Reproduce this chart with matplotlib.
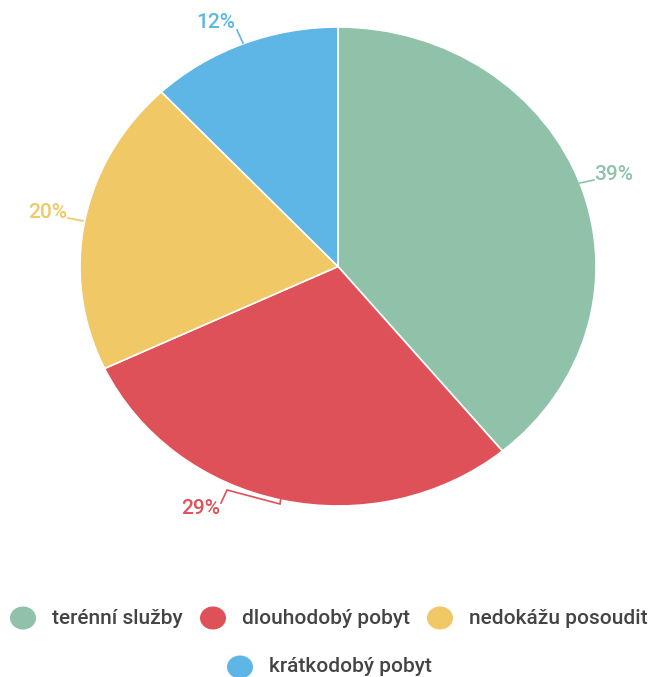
import matplotlib
matplotlib.use('Agg')
import matplotlib.pyplot as plt
from matplotlib.patches import Ellipse

# chart data
categories = ['terénní služby', 'dlouhodobý pobyt', 'nedokážu posoudit', 'krátkodobý pobyt']
shares = [39, 29, 20, 12]
colors = ['#8FC2A8', '#DF5158', '#F0C866', '#5DB6E5']

W, H = 652, 677
plt.rcParams['font.family'] = ['Roboto', 'DejaVu Sans']

fig = plt.figure(figsize=(W / 100, H / 100), dpi=100)

# pie box in pixels (left, top, right, bottom) - the reference pie is slightly elliptical
L, T, R, B = 80, 27, 596, 506
cx, cy = (L + R) / 2, (T + B) / 2
rx, ry = (R - L) / 2, (B - T) / 2
ax = fig.add_axes([L / W, 1 - B / H, (R - L) / W, (B - T) / H])

wedges, _ = ax.pie(shares, colors=colors, startangle=90, counterclock=False,
                   radius=1, wedgeprops=dict(edgecolor='white', linewidth=1.2))
ax.set_xlim(-1, 1)
ax.set_ylim(-1, 1)
ax.set_aspect('auto')
ax.axis('off')


def px(x, y):
    """pixel coords -> pie axes data coords"""
    return (x - cx) / rx, (cy - y) / ry


# label placement (pixels): text centre, leader path towards the wedge
label_pos = [(614, 174), (201, 509), (48, 213), (216, 22)]
leaders = [
    [(594, 180), (580, 183)],
    [(221, 503), (227, 490), (280, 504), (281, 497)],
    [(68, 218), (83, 221)],
    [(237, 30), (243, 43)],
]

for w, share, col, (tx, ty), path in zip(wedges, shares, colors, label_pos, leaders):
    xs, ys = zip(*[px(*p) for p in path])
    ax.plot(xs, ys, color=col, lw=1.2, clip_on=False, solid_joinstyle='miter')
    lx, ly = px(tx, ty)
    ax.text(lx, ly, f'{share}%', color=col, fontsize=15, fontweight='medium',
            ha='center', va='center', clip_on=False)

# legend, drawn on a pixel-space overlay (1 unit = 1 px)
lg = fig.add_axes([0, 0, 1, 1])
lg.set_xlim(0, W)
lg.set_ylim(H, 0)
lg.axis('off')
legend_pos = [(23, 618), (213, 618), (440, 618), (240, 667)]
for name, col, (x, y) in zip(categories, colors, legend_pos):
    lg.add_patch(Ellipse((x, y), 26, 23, color=col, lw=0))
    lg.text(x + 29, y, name, fontsize=15, fontweight='medium', color='#444444',
            ha='left', va='center')

fig.savefig('out.png', dpi=100, facecolor='white')
